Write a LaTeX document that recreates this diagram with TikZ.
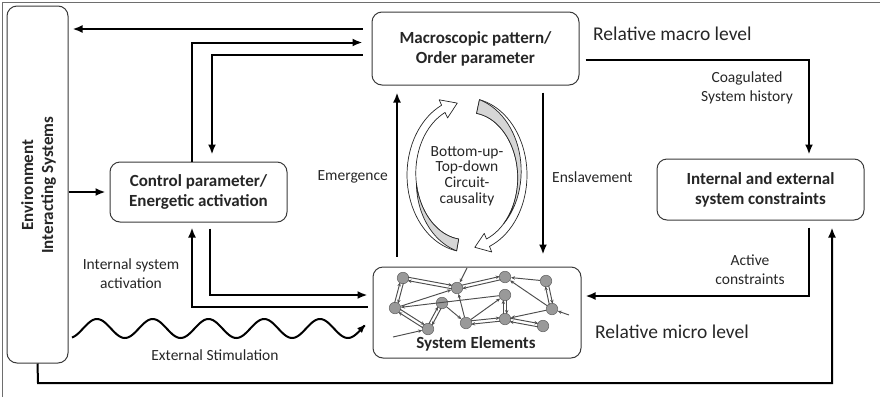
\documentclass[tikz,border=0pt]{standalone}
\usepackage{fontspec}
\setmainfont{Carlito}
\usetikzlibrary{arrows.meta,calc}

\definecolor{ink}{HTML}{262626}
\definecolor{boxline}{HTML}{3A3A3A}
\definecolor{edgegray}{HTML}{4E4E4E}
\definecolor{cellgray}{HTML}{999999}
\definecolor{cellline}{HTML}{6A6A6A}
\definecolor{ribbon}{HTML}{D6D6D6}
\definecolor{framegray}{HTML}{6E6E6E}

\newcommand\diagboxfont{\fontsize{17}{20}\selectfont\bfseries}
\newcommand\diaglblfont{\fontsize{15.5}{19}\selectfont}
\newcommand\diaglevelfont{\fontsize{19.5}{22}\selectfont}

% two opposite arrows between two cells, drawn side by side
\newcommand\biedge[2]{%
  \draw[el, shorten <=5pt, shorten >=5pt] ($(#1)!1.7pt!90:(#2)$) -- ($(#2)!1.7pt!-90:(#1)$);
  \draw[el, shorten <=5pt, shorten >=5pt] ($(#2)!1.7pt!90:(#1)$) -- ($(#1)!1.7pt!-90:(#2)$);}

\tikzset{
  box/.style={draw=boxline, line width=1pt, rounded corners=10pt, fill=white,
    inner sep=0pt, align=center, text=ink, font=\diagboxfont},
  arr/.style={line width=2pt, -{Latex[length=10pt,width=8pt]}},
  lbl/.style={text=ink, font=\diaglblfont, align=center, inner sep=0pt},
  level/.style={text=ink, font=\diaglevelfont, inner sep=0pt, anchor=west},
  cell/.style={circle, fill=cellgray, draw=cellline, line width=0.6pt,
    minimum size=11.5pt, inner sep=0pt},
  el/.style={draw=edgegray, line width=0.95pt, -{Stealth[length=4pt,width=3.4pt]}},
  ribbonline/.style={draw=ink, line width=0.7pt, line join=round},
}

\begin{document}
\begin{tikzpicture}[x=1pt,y=-1pt]
\useasboundingbox (0,0) rectangle (880,397);

% frame
\draw[framegray, line width=1.2pt] (2.5,397) -- (2.5,2.5) -- (880,2.5);

% boxes
\node[box, minimum width=61pt, minimum height=357pt] (env) at (37.5,184.5) {};
\node[rotate=90, font=\diagboxfont, text=ink, align=center, inner sep=0pt] (envtext) at (38.5,185)
  {Environment\\Interacting Systems};
\node[box, minimum width=177pt, minimum height=60pt] (ctrl) at (198.5,192)
  {Control parameter/\\Energetic activation};
\node[box, minimum width=207pt, minimum height=73pt] (macro) at (475.5,48.5)
  {Macroscopic pattern/\\Order parameter};
\node[box, minimum width=207pt, minimum height=61pt] (cons) at (760.5,189.5)
  {Internal and external\\system constraints};
\node[box, minimum width=208pt, minimum height=91pt] (sys) at (477,312.5) {};
\node[font=\diagboxfont, text=ink, inner sep=0pt] (syslabel) at (476,344) {System Elements};

% attachment points on the boxes
\coordinate (mw1) at ([yshift=19.5pt]macro.west);
\coordinate (mw2) at ([yshift=6pt]macro.west);
\coordinate (mw3) at ([yshift=-6.5pt]macro.west);
\coordinate (me)  at ([yshift=-11.5pt]macro.east);
\coordinate (mb1) at ([xshift=-78.5pt]macro.south);
\coordinate (mb2) at ([xshift=67.5pt]macro.south);
\coordinate (cn1) at ([xshift=-6.5pt]ctrl.north);
\coordinate (cn2) at ([xshift=13.5pt]ctrl.north);
\coordinate (cs1) at ([xshift=-6.5pt]ctrl.south);
\coordinate (cs2) at ([xshift=11.5pt]ctrl.south);
\coordinate (sw1) at ([yshift=17.5pt]sys.west);
\coordinate (sw2) at ([yshift=5.5pt]sys.west);
\coordinate (se)  at ([yshift=16.5pt]sys.east);
\coordinate (st1) at ([xshift=-80pt]sys.north);
\coordinate (st2) at ([xshift=66pt]sys.north);
\coordinate (ee1) at ([yshift=-7.5pt]env.east);
\coordinate (es)  at (env.south);
\coordinate (bl)  at (38,383);
\coordinate (kn)  at ([xshift=48.5pt]cons.north);
\coordinate (ks1) at ([xshift=48.5pt]cons.south);
\coordinate (ks2) at ([xshift=71.5pt]cons.south);

% connectors
\draw[arr, shorten <=9pt, shorten >=4pt] (mw1) -- (mw1 -| env.east);
\draw[arr, shorten >=9pt] (cn1) |- (mw2);
\draw[arr, shorten <=9pt, shorten >=7pt] (mw3) -| (cn2);
\draw[arr, shorten >=4pt] (ee1) -- (ee1 -| ctrl.west);
\draw[arr, shorten <=5pt, shorten >=5pt] (sw2) -| (cs1);
\draw[arr, shorten <=6pt, shorten >=5pt] (cs2) |- (sw1);
\draw[arr, shorten >=7pt] (es) -- (bl) -| (ks2);
\draw[arr, shorten <=7pt, shorten >=4pt] (ks1) |- (se);
\draw[arr, shorten <=6pt, shorten >=4pt] (me) -| (kn);
\draw[arr, shorten <=10pt, shorten >=7pt] (st1) -- (mb1);
\draw[arr, shorten <=7pt, shorten >=12pt] (mb2) -- (st2);

% external stimulation
\draw[line width=2pt, -{Latex[length=9pt,width=7pt]}]
  plot[domain=72:366, samples=180, smooth, variable=\t] (\t,{328.5-9.5*sin(((\t-72)/55.75*360)-71.4)});

% labels
\node[level] (macrolevel) at (593,34) {Relative macro level};
\node[level] (microlevel) at (595,332) {Relative micro level};
\node[lbl] (coag) at (747,88) {Coagulated\\System history};
\node[lbl] (active) at (750,270) {Active\\constraints};
\node[lbl] (intact) at (131,274) {Internal system\\activation};
\node[lbl] (extstim) at (215,355) {External Stimulation};
\node[lbl, anchor=east] (emerg) at (388,177) {Emergence};
\node[lbl, anchor=west] (ensl) at (552,177) {Enslavement};

% circular causality ribbons
\path[fill=white, ribbonline]
  plot[domain=260:115, samples=40, variable=\a] ({467+60*cos(\a)},{175-77*sin(\a)})
  -- ({467+66*cos(115)},{175-83*sin(115)})
  -- ({467+56*cos(100)},{175-73*sin(100)})
  -- ({467+46*cos(115)},{175-63*sin(115)})
  -- plot[domain=115:260, samples=40, variable=\a]
     ({467+(52-4*((\a-115)/145)^2)*cos(\a)},{175-(69-4*((\a-115)/145)^2)*sin(\a)})
  -- cycle;
\path[fill=ribbon, ribbonline]
  plot[domain=260:187, samples=30, variable=\a]
     ({467+(60-(8+4*((\a-115)/145)^2)*(260-\a)/73)*cos(\a)},{175-(77-(8+4*((\a-115)/145)^2)*(260-\a)/73)*sin(\a)})
  -- plot[domain=187:260, samples=30, variable=\a]
     ({467+(52-4*((\a-115)/145)^2)*cos(\a)},{175-(69-4*((\a-115)/145)^2)*sin(\a)})
  -- cycle;

\path[fill=white, ribbonline]
  plot[domain=78:-68, samples=40, variable=\a] ({467+60*cos(\a)},{175-77*sin(\a)})
  -- ({467+66*cos(-68)},{175-83*sin(-68)})
  -- ({467+56*cos(-82)},{175-73*sin(-82)})
  -- ({467+46*cos(-68)},{175-63*sin(-68)})
  -- plot[domain=-68:78, samples=40, variable=\a]
     ({467+(52-6*((\a+68)/146)^2)*cos(\a)},{175-(69-6*((\a+68)/146)^2)*sin(\a)})
  -- cycle;
\path[fill=ribbon, ribbonline]
  plot[domain=78:-45, samples=30, variable=\a]
     ({467+(60-(8+6*((\a+68)/146)^2)*(78-\a)/123)*cos(\a)},{175-(77-(8+6*((\a+68)/146)^2)*(78-\a)/123)*sin(\a)})
  -- plot[domain=-45:78, samples=30, variable=\a]
     ({467+(52-6*((\a+68)/146)^2)*cos(\a)},{175-(69-6*((\a+68)/146)^2)*sin(\a)})
  -- cycle;

\node[lbl] (circ) at (467,176) {Bottom-up-\\[-3.3pt]Top-down\\[-3.3pt]Circuit-\\[-3.3pt]causality};

% system elements network
\node[cell] (nA) at (403,278) {};
\node[cell] (nB) at (457,288) {};
\node[cell] (nC) at (505,277) {};
\node[cell] (nD) at (546,281) {};
\node[cell] (nE) at (395,308) {};
\node[cell] (nF) at (442,303) {};
\node[cell] (nG) at (505,295) {};
\node[cell] (nH) at (552,309) {};
\node[cell] (nI) at (428,329) {};
\node[cell] (nJ) at (466,323) {};
\node[cell] (nK) at (505,319) {};
\node[cell] (nL) at (543,326) {};
\coordinate (xB) at (467,268);
\coordinate (xI) at (393,337);
\coordinate (xH) at (569,315);

\biedge{nA}{nB}
\biedge{nA}{nE}
\biedge{nE}{nI}
\biedge{nF}{nI}
\biedge{nB}{nC}
\biedge{nJ}{nK}
\biedge{nG}{nK}
\biedge{nD}{nH}
\biedge{nK}{nL}
\draw[el] (nE) -- (nB);
\draw[el] (nG) -- (nE);
\draw[el] (nF) -- (nJ);
\draw[el] (nJ) -- (nB);
\draw[el] (nJ) -- (nG);
\draw[el] (nD) -- (nC);
\draw[el] (nH) -- (nC);
\draw[el] (nH) -- (nK);
\draw[el] (xB) -- (nB);
\draw[el] (xI) -- (nI);
\draw[el] (xH) -- (nH);
\end{tikzpicture}
\end{document}
